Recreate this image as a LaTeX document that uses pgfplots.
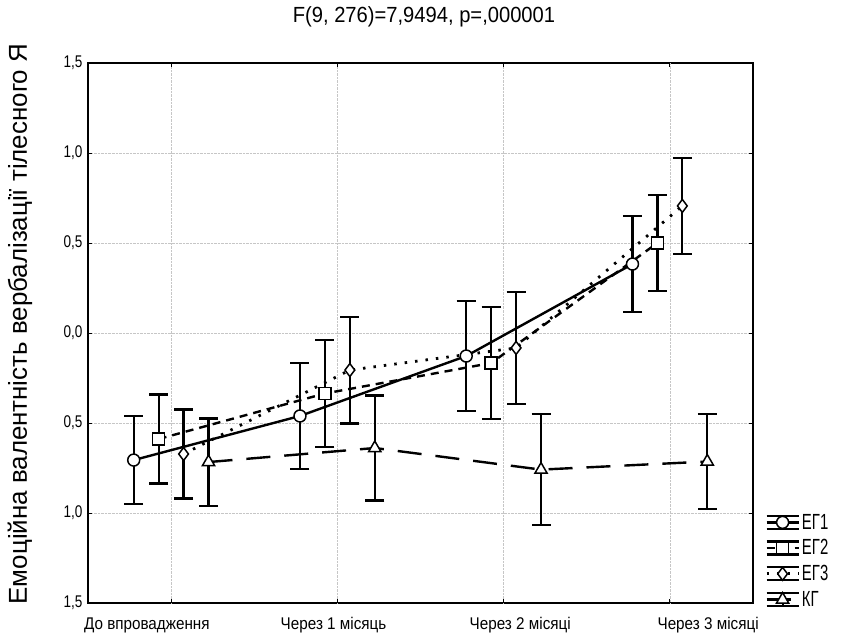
\documentclass[border=0pt]{standalone}
\usepackage{fontspec}
\setmainfont{Liberation Sans}
\newfontfamily\narrowx[FakeStretch=0.9]{Liberation Sans}
\newfontfamily\narrowy[FakeStretch=0.8]{Liberation Sans}
\newfontfamily\narrowleg[FakeStretch=0.68]{Liberation Sans}
\newfontfamily\narrowtitle[FakeStretch=0.92]{Liberation Sans}
\usepackage{pgfplots}
\pgfplotsset{compat=1.18}
\begin{document}
\begin{tikzpicture}
\path (-88bp,-38bp) rectangle (757bp,603bp);
\begin{axis}[
  at={(0,0)}, anchor=south west,
  scale only axis, width=665bp, height=540bp,
  xmin=-0.5, xmax=3.5, ymin=-1.5, ymax=1.5,
  axis line style={line width=1.5bp},
  xtick={-0.146,0.977,2.10,3.23},
  xticklabels={До впровадження,Через 1 місяць,Через 2 місяці,Через 3 місяці},
  xtick style={draw=none},
  extra x ticks={0,1,2,3},
  extra x tick labels={},
  extra x tick style={grid=major, xtick style={draw=black}, major tick length=4bp},
  ytick={-1.5,-1,-0.5,0,0.5,1,1.5},
  yticklabels={{1,5},{1,0},{0,5},{0,0},{0,5},{1,0},{1,5}},
  ymajorgrids,
  grid style={densely dotted, gray!45, line width=0.6bp},
  tick align=inside, major tick length=4bp,
  tick style={black, line width=0.8bp},
  xticklabel style={font=\narrowx\fontsize{17}{19}\selectfont, yshift=-11bp},
  yticklabel style={font=\narrowy\fontsize{17}{19}\selectfont, xshift=-2bp},
  clip=false,
  legend cell align=left,
  legend style={at={(rel axis cs:1,0)}, anchor=south west, xshift=12bp, yshift=-7bp,
    draw=none, fill=none, inner sep=0pt, row sep=5bp,
    font=\narrowleg\fontsize{22}{22}\selectfont},
  legend image code/.code={
    \draw[solid, line width=2.2bp, black] (0bp,6.5bp) -- (32bp,6.5bp);
    \draw[solid, line width=2.2bp, black] (0bp,-6.5bp) -- (32bp,-6.5bp);
    \draw[solid, line width=2.2bp, black] (16bp,-6.5bp) -- (16bp,6.5bp);
    \draw[mark repeat=2, mark phase=2, #1] plot coordinates {(0bp,0bp)(16bp,0bp)(32bp,0bp)};
  },
  every axis plot/.append style={black, mark options={solid, fill=white, line width=1.5bp},
    error bars/error bar style={solid, line width=2.2bp},
    error bars/error mark options={rotate=90, mark size=9.5bp, line width=2.2bp, solid}},
]
\addplot[line width=2.4bp, mark=*, mark size=6bp,
  error bars/.cd, y dir=both, y explicit]
  coordinates {(-0.225,-0.706) +- (0,0.243) (0.775,-0.461) +- (0,0.295) (1.775,-0.128) +- (0,0.305) (2.775,0.383) +- (0,0.267)};
\addlegendentry{ЕГ1}
\addplot[line width=2.4bp, dash pattern=on 8bp off 6bp, mark=square*, mark size=6bp,
  error bars/.cd, y dir=both, y explicit]
  coordinates {(-0.075,-0.589) +- (0,0.247) (0.925,-0.336) +- (0,0.297) (1.925,-0.167) +- (0,0.31) (2.925,0.50) +- (0,0.267)};
\addlegendentry{ЕГ2}
\addplot[line width=2.8bp, dash pattern=on 2.5bp off 8bp, mark=diamond*, mark size=6.5bp,
  error bars/.cd, y dir=both, y explicit]
  coordinates {(0.075,-0.672) +- (0,0.247) (1.075,-0.206) +- (0,0.297) (2.075,-0.083) +- (0,0.31) (3.075,0.706) +- (0,0.267)};
\addlegendentry{ЕГ3}
\addplot[line width=2.4bp, dash pattern=on 24bp off 14bp, mark=triangle*, mark size=7bp,
  error bars/.cd, y dir=both, y explicit]
  coordinates {(0.225,-0.717) +- (0,0.242) (1.225,-0.639) +- (0,0.292) (2.225,-0.759) +- (0,0.308) (3.225,-0.714) +- (0,0.264)};
\addlegendentry{КГ}
\end{axis}
\node[font=\narrowtitle\fontsize{22}{24}\selectfont] at (336bp,586bp) {F(9, 276)=7,9494, p=,000001};
\node[rotate=90, font=\fontsize{26}{28}\selectfont] at (-68bp,279bp) {Емоційна валентність вербалізації тілесного Я};
\end{tikzpicture}
\end{document}
